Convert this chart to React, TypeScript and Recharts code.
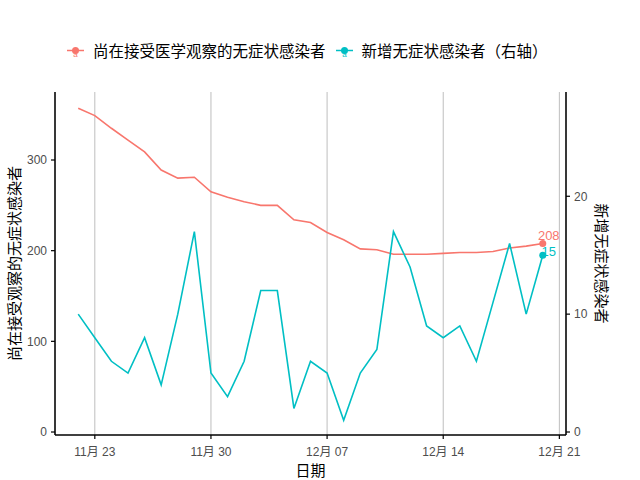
import { LineChart, Line, XAxis, YAxis, CartesianGrid, Label, LabelList } from 'recharts'

const dates = [
  '11-22', '11-23', '11-24', '11-25', '11-26', '11-27', '11-28', '11-29', '11-30',
  '12-01', '12-02', '12-03', '12-04', '12-05', '12-06', '12-07', '12-08', '12-09', '12-10',
  '12-11', '12-12', '12-13', '12-14', '12-15', '12-16', '12-17', '12-18', '12-19', '12-20',
]
const underObservation = [
  357, 349, 335, 322, 309, 289, 280, 281, 265,
  259, 254, 250, 250, 234, 231, 220, 212, 202, 201,
  196, 196, 196, 197, 198, 198, 199, 203, 205, 208,
]
const newAsymptomatic = [
  10, 8, 6, 5, 8, 4, 10, 17, 5,
  3, 6, 12, 12, 2, 6, 5, 1, 5, 7,
  17, 14, 9, 8, 9, 6, 11, 16, 10, 15,
]
const xTickDates = ['11-23', '11-30', '12-07', '12-14', '12-21']
const xTickLabels = ['11月 23', '11月 30', '12月 07', '12月 14', '12月 21']
const leftTicks = [0, 100, 200, 300]
const rightTicks = [0, 10, 20]
const SEC_RATIO = 13

const RED = '#F8766D'
const TEAL = '#00BFC4'
const FONT = '"Liberation Sans", Arial, "Noto Sans CJK SC", sans-serif'
const CJK = '"Noto Sans CJK SC", sans-serif'

const toDay = (s: string) => {
  const [m, d] = s.split('-').map(Number)
  return (Date.UTC(2022, m - 1, d) - Date.UTC(2022, 10, 22)) / 86400000
}

const chartData = dates.map((d, i) => ({
  day: toDay(d),
  obs: underObservation[i],
  added: newAsymptomatic[i],
}))
const xTicks = xTickDates.map(toDay)
const last = chartData.length - 1

const endDot = (color: string) => (p: any) =>
  p.index === last
    ? <circle key={p.index} cx={p.cx} cy={p.cy} r={3.5} fill={color} />
    : <g key={p.index} />

// only the final point gets a value label
const endLabel = (color: string, dy: number) => (p: any) =>
  p.index === last
    ? <text x={p.x + 6} y={p.y + dy} fill={color} fontSize={13} fontFamily={FONT} textAnchor="middle">{p.value}</text>
    : null

function LegendIcon({ color }: { color: string }) {
  return (
    <svg width={17} height={17}>
      <line x1={0} x2={17} y1={8.5} y2={8.5} stroke={color} strokeWidth={1.5} />
      <circle cx={8.5} cy={8.5} r={3.5} fill={color} />
      <text x={8.5} y={15} fontSize={8} fill={color} textAnchor="middle" fontFamily={FONT}>a</text>
    </svg>
  )
}

export default function App() {
  return (
    <div style={{ position: 'absolute', left: 0, top: 0, width: 640, height: 480, background: '#fff' }}>
      <div style={{ position: 'absolute', top: 39, left: 67, display: 'flex', alignItems: 'center', fontFamily: CJK, fontSize: 15.5, color: '#000' }}>
        <LegendIcon color={RED} />
        <span style={{ marginLeft: 9, marginRight: 10 }}>尚在接受医学观察的无症状感染者</span>
        <LegendIcon color={TEAL} />
        <span style={{ marginLeft: 9 }}>新增无症状感染者（右轴）</span>
      </div>
      <LineChart width={640} height={480} data={chartData} margin={{ top: 92, right: 0, bottom: 0, left: 0 }}>
        <CartesianGrid horizontal={false} stroke="#bebebe" strokeWidth={1} />
        <XAxis dataKey="day" type="number" domain={[-1.4, 29.4]} ticks={xTicks} allowDataOverflow
          tickFormatter={(v: number) => xTickLabels[xTicks.indexOf(v)]}
          height={45} tickSize={4} tickMargin={8}
          tick={{ fontSize: 12, fontFamily: FONT, fill: '#4d4d4d' }}
          axisLine={{ stroke: '#000', strokeWidth: 1.5 }} tickLine={{ stroke: '#000', strokeWidth: 1.2 }}>
          <Label content={(p: any) => (
            <text x={p.viewBox.x + p.viewBox.width / 2} y={476} textAnchor="middle" fontSize={15} fontFamily={CJK} fill="#000">日期</text>
          )} />
        </XAxis>
        <YAxis yAxisId="left" orientation="left" domain={[-3.3, 375]} ticks={leftTicks} allowDataOverflow
          width={55} tickSize={4} tickMargin={4}
          tick={{ fontSize: 12, fontFamily: FONT, fill: '#4d4d4d' }}
          axisLine={{ stroke: '#000', strokeWidth: 1.5 }} tickLine={{ stroke: '#000', strokeWidth: 1.2 }}>
          <Label content={(p: any) => {
            const cy = p.viewBox.y + p.viewBox.height / 2
            return <text x={13} y={cy} transform={`rotate(-90, 13, ${cy})`} textAnchor="middle" dominantBaseline="central"
              fontSize={15} fontFamily={CJK} fill="#000">尚在接受观察的无症状感染者</text>
          }} />
        </YAxis>
        <YAxis yAxisId="right" orientation="right" domain={[-3.3 / SEC_RATIO, 375 / SEC_RATIO]} ticks={rightTicks} allowDataOverflow
          width={74} tickSize={4} tickMargin={4}
          tick={{ fontSize: 12, fontFamily: FONT, fill: '#4d4d4d' }}
          axisLine={{ stroke: '#000', strokeWidth: 1.5 }} tickLine={{ stroke: '#000', strokeWidth: 1.2 }}>
          <Label content={(p: any) => {
            const cy = p.viewBox.y + p.viewBox.height / 2
            return <text x={602} y={cy} transform={`rotate(90, 602, ${cy})`} textAnchor="middle" dominantBaseline="central"
              fontSize={15} fontFamily={CJK} fill="#000">新增无症状感染者</text>
          }} />
        </YAxis>
        <Line yAxisId="left" dataKey="obs" type="linear" stroke={RED} strokeWidth={1.6}
          dot={endDot(RED)} activeDot={false} isAnimationActive={false}>
          <LabelList dataKey="obs" content={endLabel(RED, -3)} />
        </Line>
        <Line yAxisId="right" dataKey="added" type="linear" stroke={TEAL} strokeWidth={1.6}
          dot={endDot(TEAL)} activeDot={false} isAnimationActive={false}>
          <LabelList dataKey="added" content={endLabel(TEAL, 0.5)} />
        </Line>
      </LineChart>
    </div>
  )
}
